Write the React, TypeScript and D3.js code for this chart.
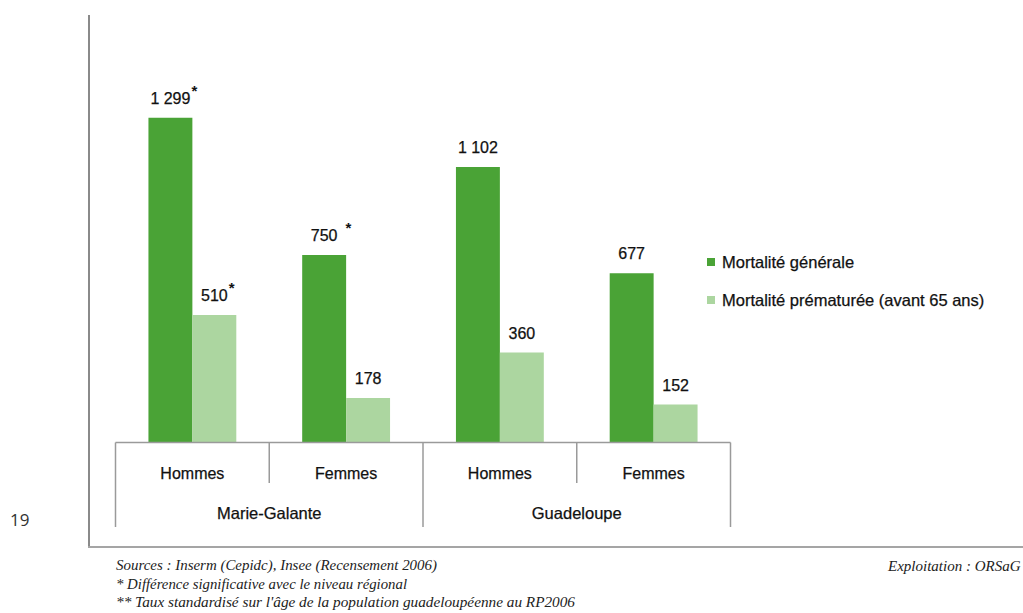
import React, { useEffect, useRef } from "react";
import * as d3 from "d3";

const categories = ["Hommes", "Femmes", "Hommes", "Femmes"];
const groups = ["Marie-Galante", "Guadeloupe"];
const seriesNames = ["Mortalité générale", "Mortalité prématurée (avant 65 ans)"];
const generale = [1299, 750, 1102, 677];
const prematuree = [510, 178, 360, 152];
const generaleLabels = ["1 299", "750", "1 102", "677"];
const prematureeLabels = ["510", "178", "360", "152"];
const generaleStars = ["*", " *", "", ""];
const prematureeStars = ["*", "", "", ""];
const footnotes = [
  "Sources : Inserm (Cepidc), Insee (Recensement 2006)",
  "* Différence significative avec le niveau régional",
  "** Taux standardisé sur l'âge de la population guadeloupéenne au RP2006",
];
const credit = "Exploitation : ORSaG";
const pageNumber = "19";

const COLORS = ["#4aa336", "#acd6a0"];

export default function App() {
  const ref = useRef<SVGSVGElement | null>(null);

  useEffect(() => {
    const svg = d3.select(ref.current);
    svg.selectAll("*").remove();

    const x0 = 115.5, x1 = 730.5, baseY = 442.5;
    const xCat = d3.scaleBand<number>().domain(d3.range(categories.length)).range([x0, x1]).paddingInner(0).paddingOuter(0);
    const xSer = d3.scaleBand<number>().domain([0, 1]).range([0, xCat.bandwidth()]).paddingInner(0).paddingOuter(0.75);
    const y = d3.scaleLinear().domain([0, 1400]).range([baseY, 92.5]);

    const font = "'Liberation Sans', Arial, sans-serif";
    const txt = (sel: any) => sel.attr("fill", "#111").attr("stroke", "#111").attr("stroke-width", 0.25);

    // Frame
    svg.append("line").attr("x1", 89).attr("x2", 89).attr("y1", 15).attr("y2", 548)
      .attr("stroke", "#8a8a8a").attr("stroke-width", 2);
    svg.append("line").attr("x1", 88).attr("x2", 1023).attr("y1", 547).attr("y2", 547)
      .attr("stroke", "#a5a5a5").attr("stroke-width", 2);

    const series = [generale, prematuree];
    const labels = [generaleLabels, prematureeLabels];
    const stars = [generaleStars, prematureeStars];

    series.forEach((vals, s) => {
      const g = svg.append("g");
      g.selectAll("rect").data(vals).join("rect")
        .attr("x", (_, i) => (xCat(i) as number) + (xSer(s) as number))
        .attr("y", (v) => y(v))
        .attr("width", xSer.bandwidth())
        .attr("height", (v) => baseY - y(v))
        .attr("fill", COLORS[s]);

      vals.forEach((v, i) => {
        const cx = (xCat(i) as number) + (xSer(s) as number) + xSer.bandwidth() / 2;
        const t = svg.append("text")
          .attr("x", cx).attr("y", y(v) - 14)
          .attr("text-anchor", "middle")
          .attr("font-family", font).attr("font-size", 16)
          .call(txt)
          .text(labels[s][i]);
        const star = stars[s][i];
        if (star) {
          const w = (t.node() as SVGTextElement).getComputedTextLength();
          const gap = star.startsWith(" ") ? 8 : 1;
          svg.append("text")
            .attr("x", cx + w / 2 + gap).attr("y", y(v) - 22)
            .attr("font-family", font).attr("font-size", 15).attr("font-weight", "bold")
            .attr("fill", "#111")
            .text("*");
        }
      });
    });

    // Axis baseline
    svg.append("line").attr("x1", x0).attr("x2", x1).attr("y1", baseY).attr("y2", baseY)
      .attr("stroke", "#9a9a9a").attr("stroke-width", 1.5);

    // separators
    const bounds = d3.range(categories.length + 1).map((i) => (i < categories.length ? (xCat(i) as number) : x1));
    bounds.forEach((bx, i) => {
      const long = i % 2 === 0;
      svg.append("line").attr("x1", bx).attr("x2", bx).attr("y1", baseY).attr("y2", long ? 527 : 483)
        .attr("stroke", "#9a9a9a").attr("stroke-width", 1.5);
    });

    categories.forEach((c, i) => {
      svg.append("text")
        .attr("x", (xCat(i) as number) + xCat.bandwidth() / 2).attr("y", 479)
        .attr("text-anchor", "middle").attr("font-family", font).attr("font-size", 16)
        .call(txt).text(c);
    });
    groups.forEach((gname, gi) => {
      const cx = (bounds[gi * 2] + bounds[gi * 2 + 2]) / 2;
      svg.append("text")
        .attr("x", cx).attr("y", 519)
        .attr("text-anchor", "middle").attr("font-family", font).attr("font-size", 16.5)
        .call(txt).text(gname);
    });

    // Legend
    seriesNames.forEach((n, i) => {
      const ly = 262 + i * 38;
      svg.append("rect").attr("x", 707).attr("y", ly - 4).attr("width", 8).attr("height", 8).attr("fill", COLORS[i]);
      svg.append("text").attr("x", 722).attr("y", ly + 5.5)
        .attr("font-family", font).attr("font-size", 16.5).call(txt).text(n);
    });

    // page number
    svg.append("text").attr("x", 10).attr("y", 526)
      .attr("font-family", "'Open Sans', 'Noto Sans', sans-serif").attr("font-size", 17)
      .attr("fill", "#333").text(pageNumber);

    // footnotes
    const serif = "'Liberation Serif', 'Times New Roman', serif";
    const footY = [570, 589, 607];
    const footW = [321, 291, 459];
    footnotes.forEach((f, i) => {
      svg.append("text").attr("x", 116).attr("y", footY[i])
        .attr("font-family", serif).attr("font-style", "italic").attr("font-size", 14.5)
        .attr("textLength", footW[i]).attr("lengthAdjust", "spacingAndGlyphs")
        .attr("fill", "#222").text(f);
    });
    svg.append("text").attr("x", 888).attr("y", 571)
      .attr("font-family", serif).attr("font-style", "italic").attr("font-size", 15)
      .attr("fill", "#222").text(credit);
  }, []);

  return (
    <svg
      ref={ref}
      width={1023}
      height={613}
      style={{ position: "absolute", left: 0, top: 0, background: "#fff" }}
    />
  );
}
